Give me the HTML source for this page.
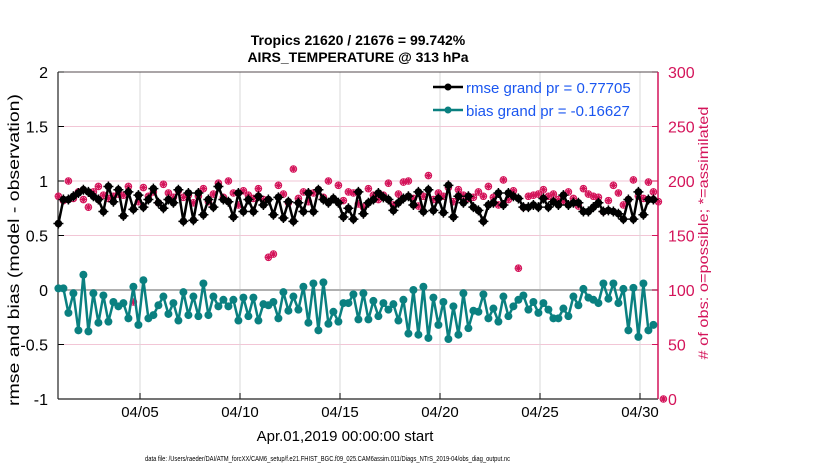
<!DOCTYPE html>
<html><head><meta charset="utf-8"><style>
body{margin:0;background:#fff;}
svg text{font-family:"Liberation Sans",Arial,sans-serif;}
</style></head><body>
<svg id="chart" width="830" height="470" viewBox="0 0 830 470" xmlns="http://www.w3.org/2000/svg">
<text x="358" y="45" text-anchor="middle" font-size="14" font-weight="bold">Tropics 21620 / 21676 = 99.742%</text>
<text x="358" y="62" text-anchor="middle" font-size="14" font-weight="bold">AIRS_TEMPERATURE @ 313 hPa</text>
<g id="grid"></g>
<g id="ticks"></g>
<g id="series"></g>
<text transform="translate(19,250) rotate(-90)" text-anchor="middle" font-size="16" textLength="312" lengthAdjust="spacingAndGlyphs">rmse and bias (model - observation)</text>
<text transform="translate(708,233) rotate(-90)" text-anchor="middle" font-size="14" fill="#d4145a" textLength="253" lengthAdjust="spacingAndGlyphs"># of obs: o=possible; *=assimilated</text>
<text x="345" y="441" text-anchor="middle" font-size="15">Apr.01,2019 00:00:00 start</text>
<text x="145" y="461" font-size="7" textLength="365" lengthAdjust="spacingAndGlyphs">data file: /Users/raeder/DAI/ATM_forcXX/CAM6_setup/f.e21.FHIST_BGC.f09_025.CAM6assim.011/Diags_NTrS_2019-04/obs_diag_output.nc</text>
<g>
<line x1="433" y1="87" x2="463" y2="87" stroke="#000" stroke-width="2.5"/><circle cx="448" cy="87" r="3.5" fill="#000"/>
<text x="466" y="93" font-size="15" fill="#1a56f0">rmse grand pr = 0.77705</text>
<line x1="433" y1="110" x2="463" y2="110" stroke="#0a8080" stroke-width="2.5"/><circle cx="448" cy="110" r="3.5" fill="#0a8080"/>
<text x="466" y="116" font-size="15" fill="#1a56f0">bias grand pr = -0.16627</text>
</g>
</svg>
<script>
const rmse=[0.61,0.83,0.83,0.86,0.89,0.92,0.90,0.86,0.83,0.72,0.95,0.81,0.92,0.68,0.90,0.74,0.87,0.76,0.83,0.93,0.80,0.75,0.83,0.80,0.92,0.63,0.89,0.64,0.89,0.69,0.83,0.76,0.95,0.83,0.81,0.67,0.89,0.72,0.83,0.72,0.86,0.78,
0.83,0.69,0.85,0.66,0.81,0.63,0.80,0.72,0.89,0.72,0.92,0.83,0.80,0.84,0.80,0.67,0.75,0.65,0.90,0.70,0.80,0.83,0.89,0.85,0.83,0.73,0.80,0.84,0.86,0.78,0.90,0.72,0.92,0.73,0.84,0.71,0.96,0.67,0.86,0.80,
0.86,0.76,0.73,0.63,0.78,0.80,0.89,0.78,0.89,0.86,0.84,0.76,0.76,0.78,0.76,0.84,0.76,0.81,0.78,0.87,0.78,0.80,0.80,0.72,0.72,0.76,0.80,0.72,0.73,0.72,0.70,0.65,0.83,0.65,0.90,0.69,0.83,0.83];
const bias=[0.015,0.015,-0.21,-0.03,-0.37,0.14,-0.38,-0.03,-0.30,-0.05,-0.29,-0.11,-0.15,-0.12,-0.26,0.03,-0.32,0.09,-0.26,-0.23,-0.14,-0.06,-0.22,-0.12,-0.28,-0.02,-0.23,-0.06,-0.24,0.06,-0.23,-0.06,-0.15,-0.09,-0.15,-0.09,-0.28,-0.07,-0.24,-0.07,-0.28,-0.13,
-0.14,-0.11,-0.26,-0.02,-0.19,-0.06,-0.18,0.03,-0.30,0.06,-0.37,0.07,-0.31,-0.20,-0.29,-0.12,-0.12,-0.04,-0.27,-0.03,-0.27,-0.10,-0.24,-0.12,-0.18,-0.13,-0.28,-0.09,-0.40,0.00,-0.41,0.03,-0.44,-0.07,-0.32,-0.11,-0.45,-0.15,-0.41,-0.03,
-0.35,-0.19,-0.20,-0.04,-0.26,-0.17,-0.29,-0.06,-0.24,-0.15,-0.09,-0.05,-0.18,-0.11,-0.21,-0.12,-0.18,-0.26,-0.26,-0.17,-0.24,-0.06,-0.14,0.01,-0.07,-0.09,-0.12,0.06,-0.08,0.06,-0.12,0.01,-0.37,0.02,-0.43,0.06,-0.37,-0.32];
const nposs=[186,182,200,184,190,183,176,190,195,187,184,186,188,187,195,89,181,194,186,190,180,197,189,185,191,185,187,180,186,193,181,188,198,185,200,189,178,191,187,184,193,183,
130,133,196,188,180,211,184,190,181,189,192,185,200,183,196,182,190,189,179,176,193,187,183,187,198,178,188,199,200,184,177,186,205,183,189,186,194,181,192,187,
184,185,190,186,195,185,178,201,183,191,120,176,186,187,188,192,186,188,183,181,190,184,177,193,188,186,185,172,182,196,189,178,183,201,186,184,199,190,181,0];
const nused=nposs.map(v=>v);
const xTickLabels=["04/05","04/10","04/15","04/20","04/25","04/30"];
const xTickDays=[4,9,14,19,24,29];
const yTicksL=[-1,-0.5,0,0.5,1,1.5,2];
const yTicksR=[0,50,100,150,200,250,300];

const NS="http://www.w3.org/2000/svg";
const L=58,R=658,T=72,B=399;
const X=d=>60+d*20;
const Y=v=>T+(2-v)*(B-T)/3;
const YR=v=>B-v*(B-T)/300;
function mk(tag,attrs,parent){const e=document.createElementNS(NS,tag);for(const k in attrs)e.setAttribute(k,attrs[k]);parent.appendChild(e);return e;}
const grid=document.getElementById('grid'),ticks=document.getElementById('ticks'),ser=document.getElementById('series');
yTicksR.forEach(v=>{const l=mk('line',{x1:L,x2:R,y1:YR(v),y2:YR(v),stroke:'#f2c6d6','stroke-width':1},grid);

});
xTickDays.forEach((d,i)=>{const l=mk('line',{x1:X(d),x2:X(d),y1:T,y2:B,stroke:'#d8d8d8','stroke-width':1},grid);


mk('line',{x1:X(d),x2:X(d),y1:B,y2:B-6,stroke:'#000'},ticks);
const t=mk('text',{x:X(d),y:B+18,'text-anchor':'middle','font-size':15},ticks);t.textContent=xTickLabels[i];

});
const zl=mk('line',{x1:L,x2:R,y1:Y(0),y2:Y(0),stroke:'#b0b0b0','stroke-width':2},grid);


yTicksL.forEach(v=>{mk('line',{x1:L,x2:L+6,y1:Y(v),y2:Y(v),stroke:'#000'},ticks);
const t=mk('text',{x:L-10,y:Y(v)+6,'text-anchor':'end','font-size':16},ticks);t.textContent=String(v);

});
yTicksR.forEach(v=>{mk('line',{x1:R,x2:R-6,y1:YR(v),y2:YR(v),stroke:'#d4145a'},ticks);
const t=mk('text',{x:R+10,y:YR(v)+6,'font-size':16,fill:'#d4145a'},ticks);t.textContent=String(v);

});
mk('line',{x1:L,x2:L,y1:T,y2:B,stroke:'#222','stroke-width':1.2},ticks);
mk('line',{x1:L,x2:R,y1:B,y2:B,stroke:'#222','stroke-width':1.2},ticks);
mk('line',{x1:L,x2:R,y1:T,y2:T,stroke:'#222','stroke-width':0.8},ticks);
mk('line',{x1:R,x2:R,y1:T,y2:B,stroke:'#d4145a','stroke-width':1.5},ticks);
const tx=i=>X(-0.08+i*0.25);
nposs.forEach((v,i)=>{const x=tx(i),y=YR(v);
const c=mk('circle',{cx:x,cy:y,r:3.3,fill:'none',stroke:'#d4145a','stroke-width':1},ser);


const y2=YR(nused[i]);
const p=mk('path',{d:`M${x-3.5},${y2}h7M${x},${y2-3.5}v7M${x-2.5},${y2-2.5}l5,5M${x+2.5},${y2-2.5}l-5,5`,stroke:'#d4145a','stroke-width':1.3},ser);

});
function series(arr,col,name,star){
const pl=mk('polyline',{points:arr.map((v,i)=>tx(i)+','+Y(v)).join(' '),fill:'none',stroke:col,'stroke-width':2.5,'stroke-linejoin':'round'},ser);


arr.forEach((v,i)=>{const c=mk('circle',{cx:tx(i),cy:Y(v),r:star?3.8:4,fill:col},ser);


if(star){mk('path',{d:`M${tx(i)-5},${Y(v)}h10M${tx(i)},${Y(v)-5}v10`,stroke:col,'stroke-width':1.5},ser);}});}
series(rmse,'#000','rmse',true);
series(bias,'#0a8080','bias',false);
</script>
</body></html>
